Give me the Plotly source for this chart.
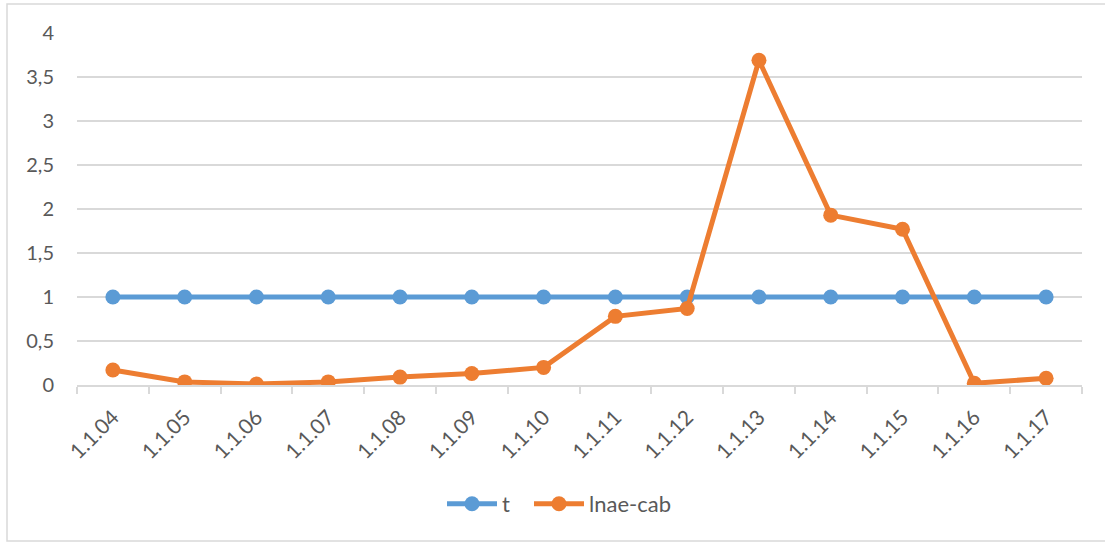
import plotly.graph_objects as go

# categories and series
categories = ["1.1.04", "1.1.05", "1.1.06", "1.1.07", "1.1.08", "1.1.09", "1.1.10",
              "1.1.11", "1.1.12", "1.1.13", "1.1.14", "1.1.15", "1.1.16", "1.1.17"]
t_values = [1, 1, 1, 1, 1, 1, 1, 1, 1, 1, 1, 1, 1, 1]
lnae_cab = [0.17, 0.035, 0.01, 0.035, 0.09, 0.13, 0.2, 0.78, 0.87, 3.69, 1.93, 1.77, 0.02, 0.076]
y_ticks = [0, 0.5, 1, 1.5, 2, 2.5, 3, 3.5, 4]
y_ticktext = ["0", "0,5", "1", "1,5", "2", "2,5", "3", "3,5", "4"]

W, H = 1105, 542
L, R, T, B = 77, 23, 33, 157
pw, ph = W - L - R, H - T - B


def px_x(x):
    return (x - L) / pw


def px_y(y):
    return (H - B - y) / ph


blue = "#5b9bd5"
orange = "#ed7d31"
grey_text = "#595959"
grid = "#d9d9d9"

fig = go.Figure()
fig.add_trace(go.Scatter(x=categories, y=t_values, name="t", mode="lines+markers",
                         line=dict(color=blue, width=5),
                         marker=dict(color=blue, size=15),
                         legendwidth=22))
fig.add_trace(go.Scatter(x=categories, y=lnae_cab, name="lnae-cab", mode="lines+markers",
                         line=dict(color=orange, width=5),
                         marker=dict(color=orange, size=15)))

# chart area border
fig.add_shape(type="rect", xref="paper", yref="paper",
              x0=px_x(7), x1=px_x(1110), y0=px_y(541), y1=px_y(4),
              line=dict(color=grid, width=1.5), layer="below")

fig.update_layout(
    width=W, height=H,
    margin=dict(l=L, r=R, t=T, b=B),
    paper_bgcolor="white", plot_bgcolor="white",
    font=dict(family="Lato, Carlito, sans-serif", size=20, color=grey_text),
    showlegend=True,
    legend=dict(orientation="h", x=px_x(442), xanchor="left", y=px_y(504), yanchor="middle",
                font=dict(size=22, color=grey_text), itemwidth=50),
    xaxis=dict(type="category", range=[-0.5, len(categories) - 0.5], showgrid=False,
               showline=True, linecolor=grid, linewidth=1.5,
               ticks="outside", tickson="boundaries", ticklen=7, tickcolor=grid, tickwidth=1.5,
               tickangle=-45, ticklabelstandoff=10, tickfont=dict(size=21, color=grey_text),
               zeroline=False),
    yaxis=dict(range=[0, 4], tickvals=y_ticks, ticktext=y_ticktext, showgrid=True,
               gridcolor=grid, gridwidth=1.5, showline=False, zeroline=False,
               ticks="", ticklabelstandoff=22, tickfont=dict(size=20, color=grey_text)),
)

fig.write_html("out.html", config={"displayModeBar": False},
               post_script="document.body.style.margin='0';")
